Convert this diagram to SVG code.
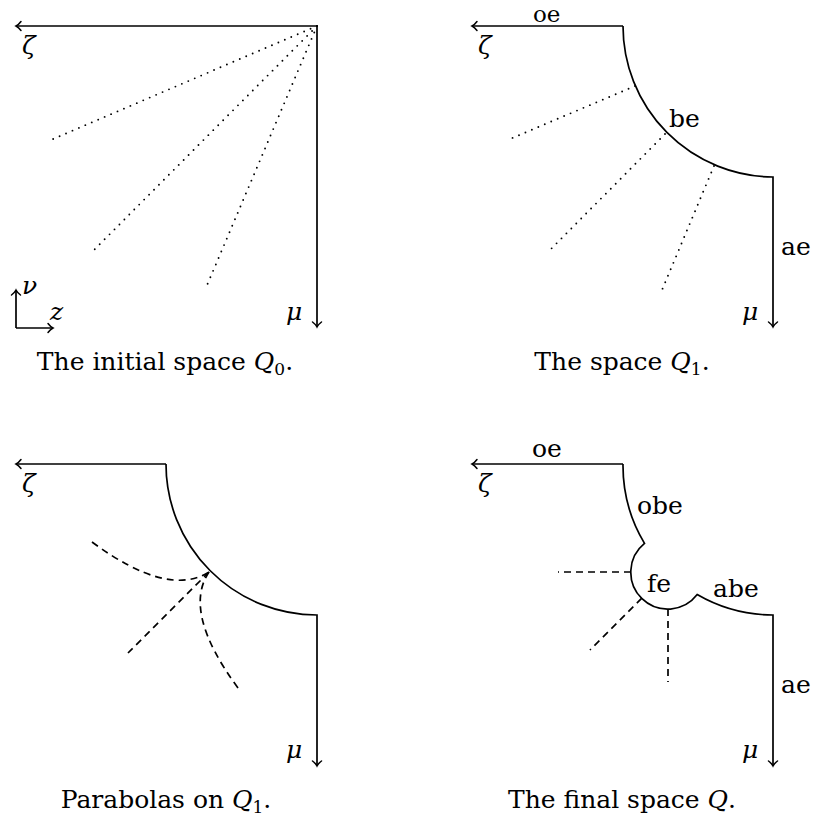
<svg xmlns="http://www.w3.org/2000/svg" width="814" height="824" viewBox="0 0 814 824">
<style>
text{font-family:"DejaVu Serif","Liberation Serif",serif;font-size:25px;fill:#000}
.it{font-style:italic}
.cap{text-anchor:middle;font-size:25px}
.top{font-size:23px}
.sub{font-size:17px}
.ln{fill:none;stroke:#000;stroke-width:1.7}
.dot{fill:none;stroke:#000;stroke-width:1.9;stroke-linecap:round;stroke-dasharray:0 7}
.dash{fill:none;stroke:#000;stroke-width:1.7;stroke-dasharray:7 5}
</style>
<defs>
<marker id="arr" viewBox="-7 -6 9 12" markerWidth="9" markerHeight="12" refX="0" refY="0" orient="auto" markerUnits="userSpaceOnUse">
<path d="M-5,-4.5 C-3,-1.8 -1,-0.5 0,0 C-1,0.5 -3,1.8 -5,4.5" fill="none" stroke="#000" stroke-width="1.5" stroke-linecap="round"/>
</marker>
</defs>

<g id="panel1">
<g id="p1-connectors">
<path class="ln" d="M317,26 H16" marker-end="url(#arr)"/>
<path class="ln" d="M317,26 V327" marker-end="url(#arr)"/>
<path class="dot" d="M317,26 L53,139"/>
<path class="dot" d="M317,26 L92,252"/>
<path class="dot" d="M317,26 L205,290"/>
<path class="ln" d="M16,328 V290" marker-end="url(#arr)"/>
<path class="ln" d="M16,328 H53" marker-end="url(#arr)"/>
</g>
<text class="it" x="22" y="54">ζ</text>
<text class="it" x="286" y="320">μ</text>
<text class="it" x="22" y="294">ν</text>
<text class="it" x="50" y="320">z</text>
<text class="cap" x="165" y="370">The initial space <tspan class="it">Q</tspan><tspan class="sub" dy="5">0</tspan><tspan dy="-5">.</tspan></text>
</g>

<g id="panel2">
<g id="p2-connectors">
<path class="ln" d="M623,26 H472" marker-end="url(#arr)"/>
<path class="ln" d="M623,26 A151,151 0 0 0 773,177 V327" marker-end="url(#arr)"/>
<path class="dot" d="M635,86 L510,139"/>
<path class="dot" d="M665,134 L548,252"/>
<path class="dot" d="M714,166 L662,290"/>
</g>
<text class="top" x="533" y="22">oe</text>
<text x="669" y="127">be</text>
<text x="781" y="255">ae</text>
<text class="it" x="478" y="54">ζ</text>
<text class="it" x="742" y="320">μ</text>
<text class="cap" x="622" y="370">The space <tspan class="it">Q</tspan><tspan class="sub" dy="5">1</tspan><tspan dy="-5">.</tspan></text>
</g>

<g id="panel3">
<g id="p3-connectors">
<path class="ln" d="M166,464 H16" marker-end="url(#arr)"/>
<path class="ln" d="M166,464 A151,151 0 0 0 317,615 V766" marker-end="url(#arr)"/>
<path class="dash" d="M92,542 Q168,598 209,572"/>
<path class="dash" d="M238,688 Q182,612 209,572"/>
<path class="dash" d="M209,572 L128,653"/>
</g>
<text class="it" x="22" y="492">ζ</text>
<text class="it" x="286" y="758">μ</text>
<text class="cap" x="166" y="808">Parabolas on <tspan class="it">Q</tspan><tspan class="sub" dy="5">1</tspan><tspan dy="-5">.</tspan></text>
</g>

<g id="panel4">
<g id="p4-connectors">
<path class="ln" d="M623,464 H472" marker-end="url(#arr)"/>
<path class="ln" d="M623,464 A151,151 0 0 0 644.5,543.4 A37,37 0 1 0 697.2,594.6 A151,151 0 0 0 773,615 V766" marker-end="url(#arr)"/>
<path class="dash" d="M631,572 H558"/>
<path class="dash" d="M641.8,598.2 L590,650"/>
<path class="dash" d="M668,609 V682"/>
</g>
<text x="532" y="457">oe</text>
<text x="637" y="514">obe</text>
<text x="647" y="592">fe</text>
<text x="713" y="597">abe</text>
<text x="781" y="693">ae</text>
<text class="it" x="478" y="492">ζ</text>
<text class="it" x="742" y="758">μ</text>
<text class="cap" x="622" y="808">The final space <tspan class="it">Q</tspan>.</text>
</g>
</svg>
